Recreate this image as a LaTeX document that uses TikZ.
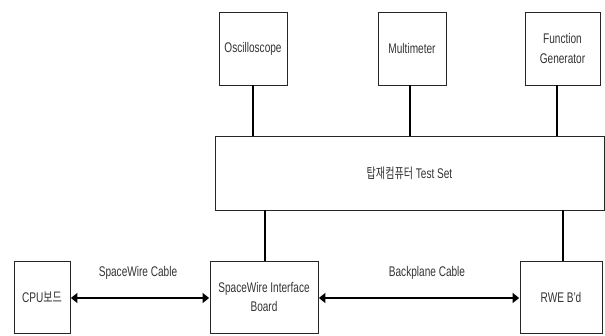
\documentclass[tikz,border=0pt]{standalone}
\usepackage{fontspec}
\setmainfont[FakeStretch=0.72]{Liberation Sans}
\newfontfamily\krfont[FakeStretch=0.72]{Noto Sans CJK KR}
\usetikzlibrary{arrows.meta}
\begin{document}
\begin{tikzpicture}[x=1pt,y=-1pt,
  box/.style={draw=black!85,line width=0.8pt,inner sep=0pt,align=center,text=black!80,font=\fontsize{14}{19.5}\selectfont},
  conn/.style={line width=2.6pt,black},
  biarrow/.style={line width=2.6pt,black,{Triangle[length=6.5pt,width=10pt]}-{Triangle[length=6.5pt,width=10pt]},shorten <=0.5pt,shorten >=0.5pt},
  lbl/.style={text=black!80,font=\fontsize{14}{16.5}\selectfont}]
\useasboundingbox (0,0) rectangle (605,336);
\node[box,minimum width=68pt,minimum height=73pt] (osc) at (253,48.5) {Oscilloscope};
\node[box,minimum width=68pt,minimum height=73pt] (mm) at (412,48.5) {Multimeter};
\node[box,minimum width=75pt,minimum height=73pt] (fg) at (562.5,48.5) {Function\\Generator};
\node[box,minimum width=389pt,minimum height=74pt] (ts) at (409.5,173) {{\krfont 탑재컴퓨터} Test Set};
\node[box,minimum width=56pt,minimum height=72pt] (cpu) at (42,297) {CPU{\krfont 보드}};
\node[box,minimum width=108pt,minimum height=72pt] (sw) at (264,297) {SpaceWire Interface\\Board};
\node[box,minimum width=82pt,minimum height=72pt] (rwe) at (561,297) {RWE B'd};
\draw[conn] (osc.south) -- (osc.south |- ts.north);
\draw[conn] (mm.south -| 410,0) -- (ts.north -| 410,0);
\draw[conn] (fg.south -| 557,0) -- (ts.north -| 557,0);
\draw[conn] (ts.south -| 265,0) -- (sw.north -| 265,0);
\draw[conn] (ts.south -| 563,0) -- (rwe.north -| 563,0);
\draw[biarrow] (cpu.east |- 0,298) -- (sw.west |- 0,298);
\draw[biarrow] (sw.east |- 0,298) -- (rwe.west |- 0,298);
\node[lbl] (l1) at (138,273) {SpaceWire Cable};
\node[lbl] (l2) at (427,273) {Backplane Cable};
\end{tikzpicture}
\end{document}
